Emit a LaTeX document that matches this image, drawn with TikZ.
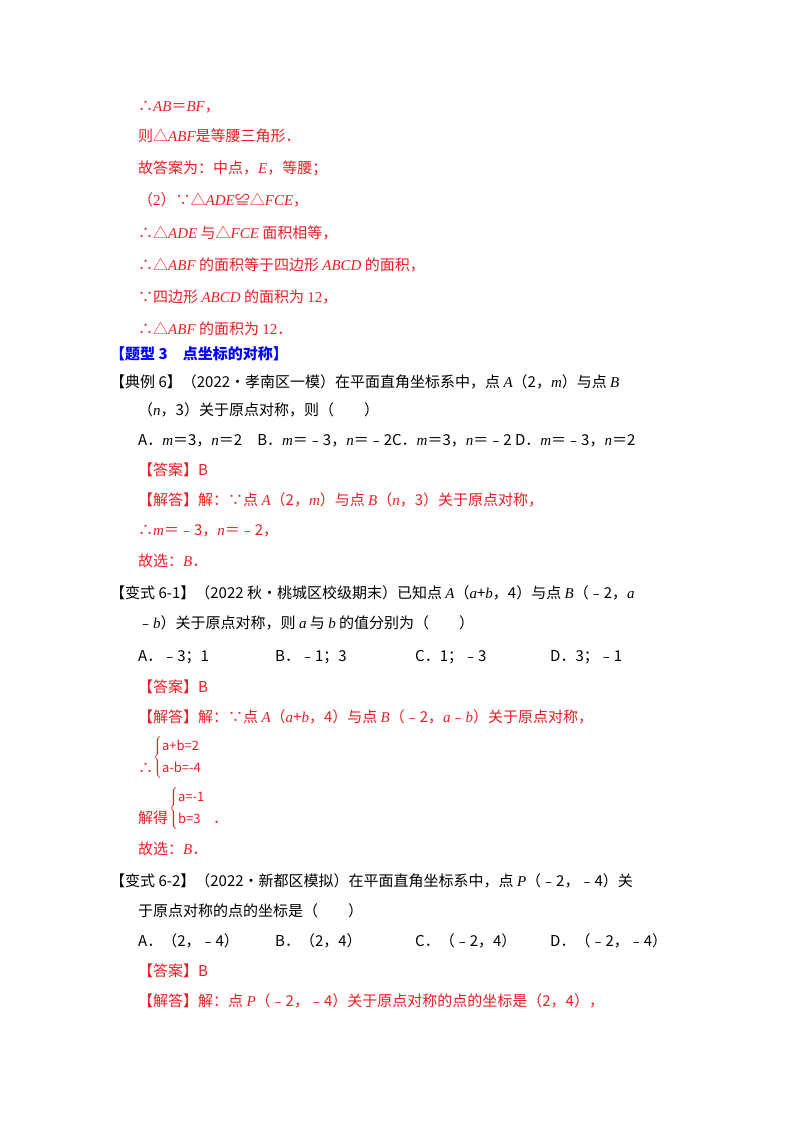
\documentclass[tikz,border=0pt]{standalone}
\usepackage{fontspec}
\setmainfont{Noto Sans CJK SC}
\newfontfamily\lat{Liberation Serif}
\newcommand\vi[1]{{\lat\itshape #1}}
\newcommand\tm[1]{{\lat #1}}
\definecolor{ansred}{RGB}{237,28,36}
\definecolor{tiblue}{RGB}{0,0,255}
\tikzset{
  txt/.style={anchor=base west, inner sep=0pt, font=\fontsize{15}{18}\selectfont},
  ans/.style={txt, text=ansred},
  qst/.style={txt, text=black},
  ttl/.style={txt, text=tiblue, font=\fontsize{15}{18}\selectfont\bfseries},
  sys/.style={anchor=west, inner sep=0pt, text=ansred, font=\fontsize{13}{16}\selectfont}
}
\begin{document}
\begin{tikzpicture}[x=1pt,y=-1pt]
\useasboundingbox (0,0) rectangle (800,1132);
% solution of previous problem
\node[ans] (s1) at (138,111) {∴\vi{AB}＝\vi{BF}，};
\node[ans] (s2) at (138,141) {则△\vi{ABF}是等腰三角形．};
\node[ans] (s3) at (138,173) {故答案为：中点，\vi{E}，等腰；};
\node[ans] (s4) at (138,205) {（\tm{2}）∵△\vi{ADE}≌△\vi{FCE}，};
\node[ans] (s5) at (138,238) {∴△\vi{ADE} 与△\vi{FCE} 面积相等，};
\node[ans] (s6) at (138,270) {∴△\vi{ABF} 的面积等于四边形 \vi{ABCD} 的面积，};
\node[ans] (s7) at (138,302) {∵四边形 \vi{ABCD} 的面积为 \tm{12}，};
\node[ans] (s8) at (138,334) {∴△\vi{ABF} 的面积为 \tm{12}．};
% topic 3
\node[ttl] (t3) at (110,359) {【题型 3\quad 点坐标的对称】};
% example 6
\node[qst] (e1) at (110,387) {【典例 6】（2022•孝南区一模）在平面直角坐标系中，点 \vi{A}（2，\vi{m}）与点 \vi{B}};
\node[qst] (e2) at (138,415) {（\vi{n}，3）关于原点对称，则（\qquad）};
\node[qst] (e3) at (138,445) {A．\vi{m}＝3，\vi{n}＝2\quad B．\vi{m}＝﹣3，\vi{n}＝﹣2C．\vi{m}＝3，\vi{n}＝﹣2 D．\vi{m}＝﹣3，\vi{n}＝2};
\node[ans] (e4) at (138,475) {【答案】B};
\node[ans] (e5) at (138,505) {【解答】解：∵点 \vi{A}（2，\vi{m}）与点 \vi{B}（\vi{n}，3）关于原点对称，};
\node[ans] (e6) at (138,535) {∴\vi{m}＝﹣3，\vi{n}＝﹣2，};
\node[ans] (e7) at (138,566) {故选：\vi{B}．};
% variant 6-1
\node[qst] (v1) at (110,598) {【变式 6-1】（2022 秋•桃城区校级期末）已知点 \vi{A}（\vi{a}+\vi{b}，4）与点 \vi{B}（﹣2，\vi{a}};
\node[qst] (v2) at (138,628) {﹣\vi{b}）关于原点对称，则 \vi{a} 与 \vi{b} 的值分别为（\qquad）};
\node[qst] (v3a) at (138,661) {A．﹣3；1};
\node[qst] (v3b) at (275,661) {B．﹣1；3};
\node[qst] (v3c) at (415,661) {C．1；﹣3};
\node[qst] (v3d) at (550,661) {D．3；﹣1};
\node[ans] (v4) at (138,692) {【答案】B};
\node[ans] (v5) at (138,722) {【解答】解：∵点 \vi{A}（\vi{a}+\vi{b}，4）与点 \vi{B}（﹣2，\vi{a}﹣\vi{b}）关于原点对称，};
\node[ans] (v6) at (138,773) {∴};
\node[sys] (v6s) at (153,757)
  {\renewcommand\arraystretch{1.35}$\left\{\begin{array}{@{}l@{}}\mbox{a+b=2}\\\mbox{a-b=-4}\end{array}\right.$};
\node[ans] (v7) at (138,823) {解得};
\node[sys] (v7s) at (169,808)
  {\renewcommand\arraystretch{1.35}$\left\{\begin{array}{@{}l@{}}\mbox{a=-1}\\\mbox{b=3}\end{array}\right.$};
\node[ans] (v7e) at (213,823) {．};
\node[ans] (v8) at (138,854) {故选：\vi{B}．};
% variant 6-2
\node[qst] (w1) at (110,886) {【变式 6-2】（2022•新都区模拟）在平面直角坐标系中，点 \vi{P}（﹣2，﹣4）关};
\node[qst] (w2) at (138,916) {于原点对称的点的坐标是（\qquad）};
\node[qst] (w3a) at (138,946) {A．（2，﹣4）};
\node[qst] (w3b) at (275,946) {B．（2，4）};
\node[qst] (w3c) at (415,946) {C．（﹣2，4）};
\node[qst] (w3d) at (550,946) {D．（﹣2，﹣4）};
\node[ans] (w4) at (138,976) {【答案】B};
\node[ans] (w5) at (138,1006) {【解答】解：点 \vi{P}（﹣2，﹣4）关于原点对称的点的坐标是（2，4），};
\end{tikzpicture}
\end{document}
